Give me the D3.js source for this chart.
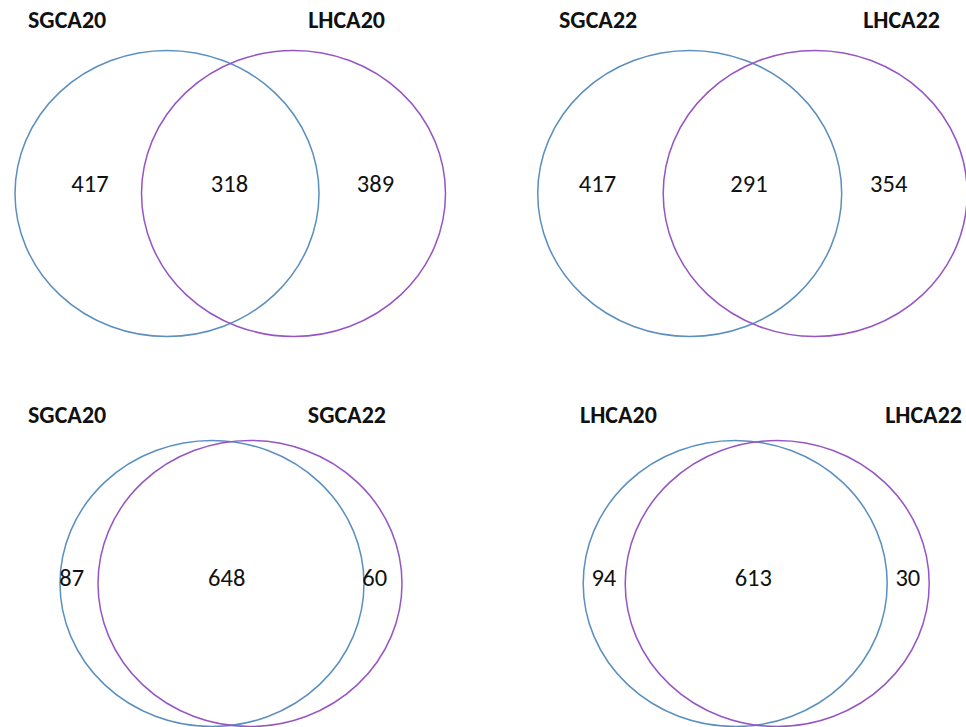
<!DOCTYPE html>
<html>
<head>
<meta charset="utf-8">
<script src="https://cdn.jsdelivr.net/npm/d3@7"></script>
<style>
  html, body { margin: 0; padding: 0; background: #fff; }
  svg { display: block; }
  .title { font-family: Calibri, Carlito, Lato, sans-serif; font-weight: 700; font-size: 24px; fill: #111; }
  .count { font-family: Calibri, Carlito, Lato, sans-serif; font-weight: 400; font-size: 24.5px; fill: #111; }
</style>
</head>
<body>
<script>
// Set names for each pairwise comparison
const leftNames  = ["SGCA20", "SGCA22", "SGCA20", "LHCA20"];
const rightNames = ["LHCA20", "LHCA22", "SGCA22", "LHCA22"];
// Counts in each region: unique to left set, shared, unique to right set
const leftOnly  = [417, 417, 87, 94];
const shared    = [318, 291, 648, 613];
const rightOnly = [389, 354, 60, 30];

// Page geometry of each panel: ellipse centres, title anchors and label positions
const layout = [
  { ax: 167.0, bx: 293.5, cy: 193.5, titleY: 28,  t0: 28,  t1: 385, labelY: 192, lx: [90, 229.5, 375.5] },
  { ax: 689.7, bx: 815.2, cy: 193.5, titleY: 28,  t0: 559, t1: 940, labelY: 192, lx: [597.5, 749, 888.7] },
  { ax: 212.0, bx: 250.0, cy: 583.5, titleY: 423, t0: 28,  t1: 386, labelY: 586, lx: [71.7, 226.7, 374.7] },
  { ax: 735.2, bx: 777.2, cy: 583.5, titleY: 423, t0: 580, t1: 962, labelY: 586, lx: [603.8, 753.3, 907.8] }
];

const W = 966, H = 727;
const RX = 152, RY = 143;
const colorA = "#5b8fbf", colorB = "#9655c4";

const svg = d3.select("body").append("svg")
  .attr("width", W).attr("height", H)
  .attr("viewBox", `0 0 ${W} ${H}`);

const panels = leftNames.map((n, i) => ({
  left: n, right: rightNames[i],
  counts: [leftOnly[i], shared[i], rightOnly[i]],
  geo: layout[i]
}));

const g = svg.selectAll("g.panel").data(panels).join("g").attr("class", "panel");

// the two set outlines
g.append("ellipse")
  .attr("cx", d => d.geo.ax).attr("cy", d => d.geo.cy)
  .attr("rx", RX).attr("ry", RY)
  .attr("fill", "none").attr("stroke", colorA).attr("stroke-width", 1.5);

g.append("ellipse")
  .attr("cx", d => d.geo.bx).attr("cy", d => d.geo.cy)
  .attr("rx", RX).attr("ry", RY)
  .attr("fill", "none").attr("stroke", colorB).attr("stroke-width", 1.5);

// set titles
g.append("text").attr("class", "title")
  .attr("x", d => d.geo.t0).attr("y", d => d.geo.titleY)
  .attr("text-anchor", "start")
  .text(d => d.left);

g.append("text").attr("class", "title")
  .attr("x", d => d.geo.t1).attr("y", d => d.geo.titleY)
  .attr("text-anchor", "end")
  .text(d => d.right);

// region counts
g.selectAll("text.count")
  .data(d => d.counts.map((c, k) => ({ c, x: d.geo.lx[k], y: d.geo.labelY })))
  .join("text").attr("class", "count")
  .attr("x", d => d.x).attr("y", d => d.y)
  .attr("text-anchor", "middle")
  .text(d => d3.format("d")(d.c));
</script>
</body>
</html>
